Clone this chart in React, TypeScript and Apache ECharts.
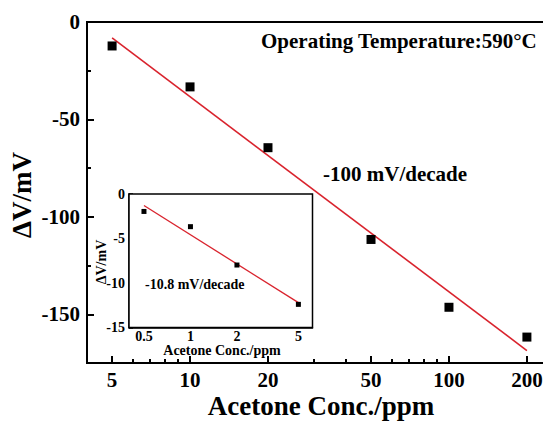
import { useEffect, useRef } from 'react';
import * as echarts from 'echarts';

// ---- main plot data ----
const mainConc = [5, 10, 20, 50, 100, 200];
const mainDV = [-12.3, -33.3, -64.5, -111.6, -146.4, -161.7];
const mainFitConc = [5, 200];
const mainFitDV = [-8.2, -168.6];
const mainXTicks = [5, 10, 20, 50, 100, 200];
const mainXMinorTicks = [6, 7, 8, 9, 30, 40, 60, 70, 80, 90];
const mainYTicks = [0, -50, -100, -150];
const mainYMinorTicks = [-25, -75, -125];
const mainXRange = [4, 250];
const mainYRange = [-175, 0];

// ---- inset data ----
const insetConc = [0.5, 1, 2, 5];
const insetDV = [-1.96, -3.67, -7.98, -12.4];
const insetFitConc = [0.5, 5];
const insetFitDV = [-1.3, -12.2];
const insetXTicks = [0.5, 1, 2, 5];
const insetXMinorTicks = [0.6, 0.7, 0.8, 0.9, 3, 4, 6];
const insetYTicks = [0, -5, -10, -15];
const insetYMinorTicks = [-2.5, -7.5, -12.5];
const insetXRange = [0.4, 6.17];
const insetYRange = [-15, 0];

const FONT = "'Liberation Serif', 'Times New Roman', serif";
const RED = '#d9232d';
const lg = (v: number) => Math.log10(v);

const logFmt = (ticks: number[]) => (v: number) => {
  const t = ticks.find((t) => Math.abs(lg(t) - v) < 1e-6);
  return t === undefined ? '' : String(t);
};

function xMajor(grid: number, range: number[], ticks: number[], fs: number, lw: number, tl: number, margin: number) {
  return {
    type: 'value', gridIndex: grid, position: 'bottom', min: lg(range[0]), max: lg(range[1]),
    axisLine: { show: true, onZero: false, lineStyle: { color: '#000', width: lw } },
    axisTick: { show: true, inside: true, length: tl, customValues: ticks.map(lg), lineStyle: { color: '#000', width: lw } },
    axisLabel: { show: true, customValues: ticks.map(lg), formatter: logFmt(ticks), fontSize: fs, fontWeight: 'bold', fontFamily: FONT, color: '#000', margin },
    splitLine: { show: false },
  };
}
function xMinor(grid: number, range: number[], ticks: number[], lw: number, tl: number) {
  return {
    type: 'value', gridIndex: grid, position: 'bottom', min: lg(range[0]), max: lg(range[1]),
    axisLine: { show: false, onZero: false },
    axisTick: { show: true, inside: true, length: tl, customValues: ticks.map(lg), lineStyle: { color: '#000', width: lw } },
    axisLabel: { show: false },
    splitLine: { show: false },
  };
}
function yMajor(grid: number, range: number[], ticks: number[], fs: number, lw: number, tl: number, margin: number) {
  return {
    type: 'value', gridIndex: grid, position: 'left', min: range[0], max: range[1],
    axisLine: { show: true, onZero: false, lineStyle: { color: '#000', width: lw } },
    axisTick: { show: true, inside: true, length: tl, customValues: ticks, lineStyle: { color: '#000', width: lw } },
    axisLabel: { show: true, customValues: ticks, formatter: (v: number) => String(v), fontSize: fs, fontWeight: 'bold', fontFamily: FONT, color: '#000', margin },
    splitLine: { show: false },
  };
}
function yMinor(grid: number, range: number[], ticks: number[], lw: number, tl: number) {
  return {
    type: 'value', gridIndex: grid, position: 'left', min: range[0], max: range[1],
    axisLine: { show: false, onZero: false },
    axisTick: { show: true, inside: true, length: tl, customValues: ticks, lineStyle: { color: '#000', width: lw } },
    axisLabel: { show: false },
    splitLine: { show: false },
  };
}

const txt = (text: string, x: number, y: number, fs: number, align: string, rotation = 0) => ({
  type: 'text', x, y, rotation, z: 100,
  style: { text, fontSize: fs, fontWeight: 'bold', fontFamily: FONT, fill: '#000', textAlign: align, textVerticalAlign: 'middle' },
});

export default function App() {
  const ref = useRef<HTMLDivElement>(null);
  useEffect(() => {
    if (!ref.current) return;
    const chart = echarts.init(ref.current, null, { renderer: 'svg' });
    chart.setOption({
      animation: false,
      backgroundColor: '#fff',
      grid: [
        { left: 87, top: 22, width: 465, height: 341, show: true, borderColor: '#000', borderWidth: 2, backgroundColor: 'transparent' },
        { left: 129, top: 194, width: 183.5, height: 133.5, show: true, borderColor: '#000', borderWidth: 1.5, backgroundColor: '#fff', z: 3 },
      ],
      xAxis: [
        xMajor(0, mainXRange, mainXTicks, 21, 2, 7, 6),
        xMinor(0, mainXRange, mainXMinorTicks, 2, 4),
        xMajor(1, insetXRange, insetXTicks, 14, 1.5, 4, 2),
        xMinor(1, insetXRange, insetXMinorTicks, 1.2, 2.5),
      ],
      yAxis: [
        yMajor(0, mainYRange, mainYTicks, 21, 2, 7, 7),
        yMinor(0, mainYRange, mainYMinorTicks, 2, 4),
        yMajor(1, insetYRange, insetYTicks, 14, 1.5, 4, 4),
        yMinor(1, insetYRange, insetYMinorTicks, 1.2, 2.5),
      ],
      series: [
        {
          type: 'line', xAxisIndex: 0, yAxisIndex: 0, showSymbol: false, z: 2,
          data: mainFitConc.map((c, i) => [lg(c), mainFitDV[i]]),
          lineStyle: { color: RED, width: 1.6 }, itemStyle: { color: RED },
        },
        {
          type: 'scatter', xAxisIndex: 0, yAxisIndex: 0, symbol: 'rect', symbolSize: 9, z: 3,
          data: mainConc.map((c, i) => [lg(c), mainDV[i]]),
          itemStyle: { color: '#000', opacity: 1 },
        },
        {
          type: 'line', xAxisIndex: 2, yAxisIndex: 2, showSymbol: false, z: 4,
          data: insetFitConc.map((c, i) => [lg(c), insetFitDV[i]]),
          lineStyle: { color: RED, width: 1.3 }, itemStyle: { color: RED },
        },
        {
          type: 'scatter', xAxisIndex: 2, yAxisIndex: 2, symbol: 'rect', symbolSize: 5, z: 5,
          data: insetConc.map((c, i) => [lg(c), insetDV[i]]),
          itemStyle: { color: '#000', opacity: 1 },
        },
      ],
      graphic: [
        txt('Operating Temperature:590°C', 261, 41, 21, 'left'),
        txt('-100 mV/decade', 323, 174, 21, 'left'),
        txt('-10.8 mV/decade', 145, 284, 14, 'left'),
        txt('Acetone Conc./ppm', 321, 406, 27, 'center'),
        txt('Acetone Conc./ppm', 222, 350, 14, 'center'),
        txt('ΔV/mV', 22, 195, 27, 'center', Math.PI / 2),
        txt('ΔV/mV', 101, 262, 14, 'center', Math.PI / 2),
      ],
    });
    return () => chart.dispose();
  }, []);
  return (
    <div style={{ position: 'absolute', left: 0, top: 0, width: 543, height: 421, overflow: 'hidden', background: '#fff' }}>
      <div ref={ref} style={{ width: 570, height: 421 }} />
    </div>
  );
}
